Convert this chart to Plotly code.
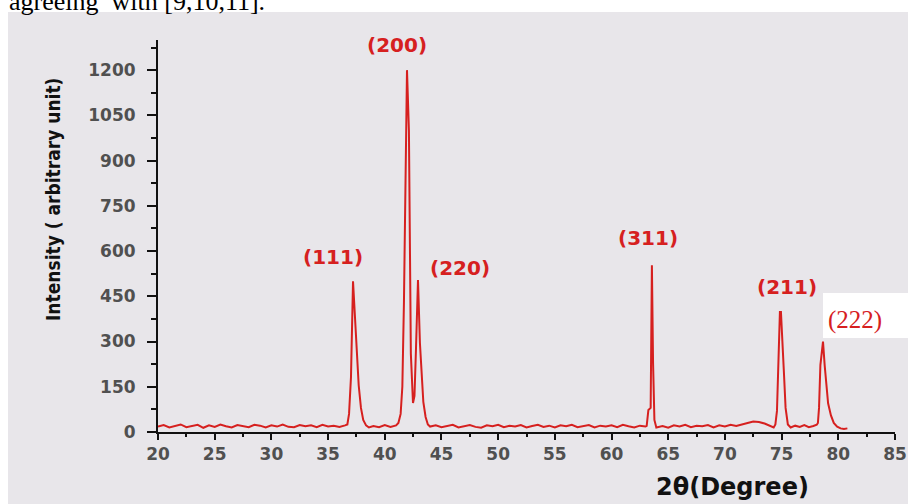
import plotly.graph_objects as go

# ---- data ----
two_theta = [
    20.0, 20.5, 21.0, 21.5, 22.0, 22.5, 23.0, 23.5, 24.0, 24.5, 25.0, 25.5, 26.0, 26.5,
    27.0, 27.5, 28.0, 28.5, 29.0, 29.5, 30.0, 30.5, 31.0, 31.5, 32.0, 32.5, 33.0, 33.5,
    34.0, 34.5, 35.0, 35.5, 36.0, 36.5,
    36.7, 36.85, 37.02, 37.2, 37.46, 37.7, 37.9, 38.1, 38.35, 38.6,
    39.0, 39.5, 40.0, 40.5, 41.0,
    41.2, 41.4, 41.55, 41.69, 41.96, 42.13, 42.3, 42.49, 42.62, 42.75, 42.93, 43.1,
    43.25, 43.4, 43.6, 43.8, 44.0,
    44.5, 45.0, 45.5, 46.0, 46.5, 47.0, 47.5, 48.0, 48.5, 49.0, 49.5, 50.0, 50.5, 51.0,
    51.5, 52.0, 52.5, 53.0, 53.5, 54.0, 54.5, 55.0, 55.5, 56.0, 56.5, 57.0, 57.5, 58.0,
    58.5, 59.0, 59.5, 60.0, 60.5, 61.0, 61.5, 62.0, 62.5, 63.0,
    63.1, 63.25, 63.45, 63.56, 63.66, 63.78, 63.95,
    64.5, 65.0, 65.5, 66.0, 66.5, 67.0, 67.5, 68.0, 68.5, 69.0, 69.5, 70.0, 70.5, 71.0,
    71.5, 72.0, 72.5, 73.0, 73.5, 74.0, 74.3,
    74.45, 74.59, 74.85, 74.94, 75.2, 75.35, 75.55,
    75.8, 76.2, 76.6, 77.0, 77.4, 77.8, 78.1,
    78.2, 78.3, 78.42, 78.65, 78.8, 78.95, 79.1, 79.35, 79.6, 79.9, 80.2, 80.5, 80.8,
]
intensity = [
    18, 23, 15, 21, 25, 16, 20, 24, 14, 22, 17, 25, 19, 15,
    23, 20, 16, 24, 21, 15, 22, 18, 25, 17, 16, 23, 19, 22,
    16, 24, 18, 21, 17, 22,
    25, 60, 182, 500, 298, 155, 80, 40, 22, 15,
    20, 16, 23, 17, 22,
    30, 60, 150, 428, 1200, 1000, 260, 96, 120, 272, 504, 295,
    180, 100, 50, 25, 18,
    22, 16, 21, 24, 15, 20, 23, 17, 14, 22, 19, 24, 16, 21,
    18, 23, 15, 20, 24, 17, 21, 15, 22, 19, 24, 16, 20, 23,
    15, 21, 18, 22, 16, 24, 19, 15, 21, 18,
    20, 73, 80, 553, 232, 40, 15,
    20, 14, 22, 18, 24, 16, 21, 19, 23, 15, 22, 18, 24, 20,
    26, 30, 35, 33, 28, 20, 15,
    25, 70, 398, 398, 200, 80, 25,
    15, 21, 17, 23, 16, 20, 24,
    30, 80, 222, 300, 220, 150, 95, 55, 30, 18, 12, 10, 12,
]

peak_labels = ["(111)", "(200)", "(220)", "(311)", "(211)"]
peak_label_x = [35.43, 41.08, 46.63, 63.21, 75.47]
peak_label_y = [580, 1283, 544, 643, 481]
extra_label = "(222)"
extra_label_x = 81.46
extra_label_y = 371

x_ticks = list(range(20, 90, 5))
y_ticks = list(range(0, 1350, 150))

x_title = "2θ(Degree)"
y_title = "Intensity ( arbitrary unit)"
caption = "agreeing  with [9,10,11]."

# ---- layout geometry ----
W, H = 908, 504
L, R, T, B = 158, 13, 40, 72
PW, PH = W - L - R, H - T - B


def px(xp):
    return (xp - L) / PW


def py(yp):
    return (H - B - yp) / PH


RED = "#d6201f"

fig = go.Figure()
fig.add_trace(go.Scatter(
    x=two_theta, y=intensity, mode="lines",
    line=dict(color=RED, width=2), hoverinfo="skip", showlegend=False,
))

annotations = []
for t, xv, yv in zip(peak_labels, peak_label_x, peak_label_y):
    annotations.append(dict(
        x=xv, y=yv, xref="x", yref="y", text=t, showarrow=False,
        font=dict(family="DejaVu Sans", size=20, color=RED, weight="bold"),
        xanchor="center", yanchor="middle",
    ))
annotations.append(dict(
    x=extra_label_x, y=extra_label_y, xref="x", yref="y", text=extra_label,
    showarrow=False, font=dict(family="Liberation Serif", size=25, color=RED),
    xanchor="center", yanchor="middle",
))
annotations.append(dict(
    x=px(53), y=py(200), xref="paper", yref="paper", text=y_title, textangle=-90,
    showarrow=False,
    font=dict(family="DejaVu Sans Condensed", size=19, color="#111111", weight="bold"),
    xanchor="center", yanchor="middle",
))
annotations.append(dict(
    x=px(732), y=py(487), xref="paper", yref="paper", text=x_title, showarrow=False,
    font=dict(family="DejaVu Sans", size=24, color="#111111", weight="bold"),
    xanchor="center", yanchor="middle",
))
annotations.append(dict(
    x=px(7), y=py(18), xref="paper", yref="paper", text=caption, showarrow=False,
    font=dict(family="Liberation Serif", size=26, color="#000000"),
    xanchor="left", yanchor="bottom",
))

shapes = [
    dict(type="rect", xref="paper", yref="paper", x0=px(8), x1=px(W), y0=py(H), y1=py(12),
         fillcolor="#e8e6ea", line=dict(width=0), layer="below"),
    dict(type="rect", xref="paper", yref="paper", x0=px(823), x1=px(W), y0=py(338), y1=py(293),
         fillcolor="#ffffff", line=dict(width=0), layer="below"),
]

tick_font = dict(family="DejaVu Sans", size=17, color="#505050", weight="bold")

fig.update_layout(
    width=W, height=H,
    margin=dict(l=L, r=R, t=T, b=B, pad=0, autoexpand=False),
    paper_bgcolor="#ffffff", plot_bgcolor="rgba(0,0,0,0)",
    annotations=annotations, shapes=shapes,
    xaxis=dict(
        range=[20, 85], tickvals=x_ticks, ticktext=[str(v) for v in x_ticks],
        automargin=False,
        showgrid=False, zeroline=False, showline=True, linecolor="#111111", linewidth=2,
        ticks="outside", ticklen=6, tickwidth=2, tickcolor="#111111",
        tickfont=tick_font,
        minor=dict(dtick=2.5, tick0=20, ticks="outside", ticklen=3, tickwidth=2, tickcolor="#111111"),
    ),
    yaxis=dict(
        range=[0, 1300], tickvals=y_ticks, ticktext=[str(v) for v in y_ticks],
        automargin=False,
        showgrid=False, zeroline=False, showline=True, linecolor="#111111", linewidth=2,
        ticks="outside", ticklen=9, tickwidth=2, tickcolor="#111111",
        tickfont=tick_font, ticklabelstandoff=8,
        minor=dict(dtick=75, tick0=0, ticks="outside", ticklen=5, tickwidth=2, tickcolor="#111111"),
    ),
)

fig.write_html(
    "out.html",
    config={"displayModeBar": False},
    post_script="document.body.style.margin='0px';document.body.style.padding='0px';",
)
